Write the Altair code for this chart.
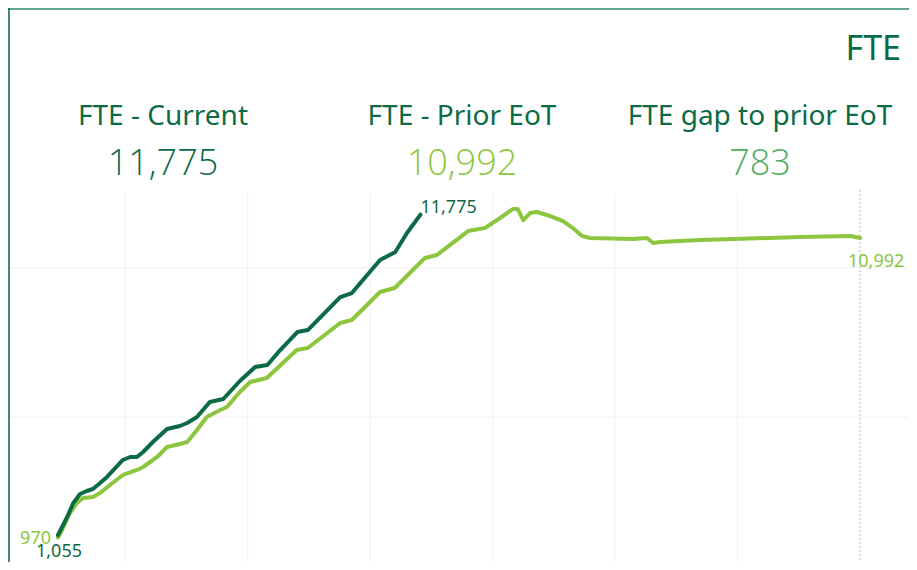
import altair as alt
import pandas as pd

# ---- data ----
series_names = ["FTE - Current", "FTE - Prior EoT"]

cur_day = [0, 1.5, 2.5, 3.6, 4.7, 5.7, 6.5, 8.0, 10.6, 11.8, 12.9, 13.9, 15.5, 17.8, 19.9,
           21.1, 22.7, 24.8, 27.0, 29.7, 32.2, 34.2, 36.3, 39.1, 40.8, 46.1, 48.0, 52.6,
           55.1, 57.0, 59.2]
cur_fte = [1055, 1657, 2126, 2427, 2527, 2594, 2728, 2996, 3565, 3665, 3665, 3832, 4167,
           4602, 4702, 4803, 5003, 5505, 5606, 6208, 6676, 6743, 7245, 7847, 7914, 9018,
           9152, 10257, 10524, 11160, 11775]

prior_day = [0, 0.65, 1.96, 3.1, 4.08, 5.72, 6.86, 8.5, 10.6, 12.9, 13.9, 16.2, 17.8, 19.9,
             21.1, 22.7, 24.3, 26.5, 27.6, 29.7, 31.4, 34.1, 39.0, 40.8, 46.1, 48.0, 52.6,
             55.0, 59.9, 61.9, 64.0, 67.0, 69.7, 71.7, 74.3, 75.1, 76.0, 77.1, 78.2, 80.4,
             82.5, 84.1, 85.6, 86.9, 93.9, 96.2, 97.2, 98.3, 104.9, 110.3, 121.2, 129.5, 131]
prior_fte = [970, 1222, 1791, 2126, 2293, 2326, 2460, 2728, 3063, 3230, 3330, 3665, 4000,
             4100, 4167, 4568, 5003, 5238, 5338, 5840, 6174, 6308, 7245, 7312, 8149, 8249,
             9186, 9320, 10323, 10424, 10758, 11227, 11327, 11595, 11963, 11963, 11595,
             11829, 11863, 11729, 11561, 11327, 11060, 10993, 10959, 10993, 10825, 10859,
             10926, 10959, 11026, 11060, 10992]

kpi_titles = ["FTE - Current", "FTE - Prior EoT", "FTE gap to prior EoT"]
kpi_values = ["11,775", "10,992", "783"]
grid_days = [11, 31, 51, 71, 91, 111]
grid_fte = [0, 5000, 10000]

# ---- styles ----
DARK = "#0c6b45"
LIGHT = "#8cc63f"
MID = "#4cae5c"
FONT = "Noto Sans"
NUMFONT = "Open Sans"
GRID = "#f0f0f0"

cur_df = pd.DataFrame({"day": cur_day, "fte": cur_fte, "series": series_names[0]})
prior_df = pd.DataFrame({"day": prior_day, "fte": prior_fte, "series": series_names[1]})

xs = alt.Scale(domain=[0, 131], range=[50, 852], nice=False, zero=False)
ys = alt.Scale(domain=[0, 10000], range=[558.5, 259.7], nice=False, zero=False)
X = alt.X("day:Q", scale=xs, axis=None)
Y = alt.Y("fte:Q", scale=ys, axis=None)

vgrid = alt.Chart(pd.DataFrame({"day": grid_days})).mark_rule(color=GRID, strokeWidth=1).encode(
    x=X, y=alt.value(185), y2=alt.value(554))
hgrid = alt.Chart(pd.DataFrame({"fte": grid_fte})).mark_rule(color=GRID, strokeWidth=1).encode(
    y=Y, x=alt.value(2), x2=alt.value(901))

prior_line = alt.Chart(prior_df).mark_line(
    color=LIGHT, strokeWidth=4, strokeCap="round", strokeJoin="round"
).encode(x=X, y=Y)
cur_line = alt.Chart(cur_df).mark_line(
    color=DARK, strokeWidth=4, strokeCap="round", strokeJoin="round"
).encode(x=X, y=Y)

end_rule = alt.Chart(prior_df.tail(1)).mark_rule(
    color="#b5b5b5", strokeDash=[2, 2], strokeWidth=1
).encode(x=X, y=alt.value(182), y2=alt.value(557))

def label(df, color, **kw):
    return alt.Chart(df).mark_text(color=color, font=FONT, fontSize=18, **kw).encode(
        x=X, y=Y, text=alt.Text("fte:Q", format=","))

cur_end = label(cur_df.tail(1), DARK, align="left", baseline="alphabetic", dx=0, dy=-2)
cur_start = label(cur_df.head(1), DARK, align="center", baseline="alphabetic", dx=1, dy=22)
prior_end = label(prior_df.tail(1), LIGHT, align="left", baseline="alphabetic", dx=-12, dy=29)
prior_start = label(prior_df.head(1), LIGHT, align="right", baseline="alphabetic", dx=-7, dy=6)

layers = [vgrid, hgrid, prior_line, cur_line, end_rule, cur_end, cur_start, prior_end, prior_start]

# KPI header texts
kpi_x = [155, 454, 752]
kpi_colors = [DARK, LIGHT, MID]
for t, v, xp, c in zip(kpi_titles, kpi_values, kpi_x, kpi_colors):
    layers.append(alt.Chart(pd.DataFrame({"t": [t]})).mark_text(
        font=FONT, fontSize=28, fontWeight=400, color=DARK, align="center",
        baseline="alphabetic").encode(text="t:N", x=alt.value(xp), y=alt.value(117)))
    layers.append(alt.Chart(pd.DataFrame({"t": [v]})).mark_text(
        font=NUMFONT, fontSize=36, fontWeight=300, color=c, align="center",
        baseline="alphabetic").encode(text="t:N", x=alt.value(xp), y=alt.value(167)))

layers.append(alt.Chart(pd.DataFrame({"t": ["FTE"]})).mark_text(
    font=FONT, fontSize=34, fontWeight=400, color=DARK, align="right",
    baseline="alphabetic").encode(text="t:N", x=alt.value(893), y=alt.value(52)))

# frame lines (top and left)
layers.append(alt.Chart(pd.DataFrame({"a": [0]})).mark_rule(color="#5fa88a", strokeWidth=2).encode(
    x=alt.value(0), x2=alt.value(901), y=alt.value(1)))
layers.append(alt.Chart(pd.DataFrame({"a": [0]})).mark_rule(color=DARK, strokeWidth=1.5).encode(
    x=alt.value(1), y=alt.value(0), y2=alt.value(554)))

chart = alt.layer(*layers).properties(
    width=901, height=554, padding=0,
    autosize=alt.AutoSizeParams(type="none"),
).configure_view(stroke=None).configure(background="white")

chart.save("out.html", embed_options={"renderer": "svg", "actions": False})
